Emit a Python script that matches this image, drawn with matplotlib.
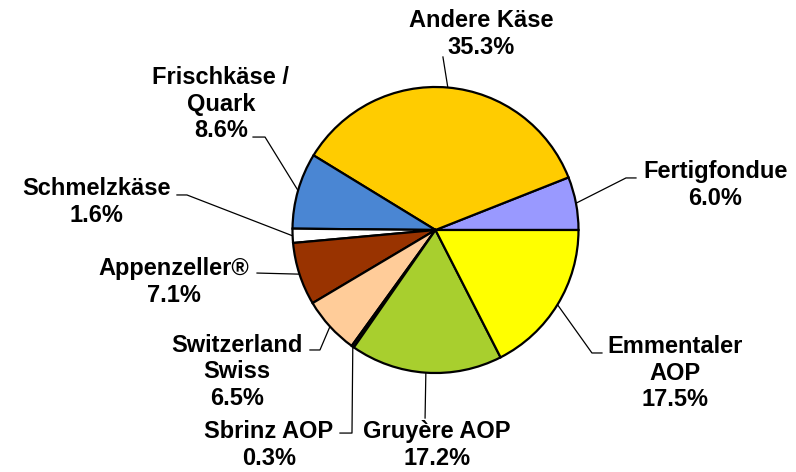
import matplotlib
matplotlib.use("Agg")
import matplotlib.pyplot as plt
import numpy as np

# slices, counterclockwise from 3 o'clock
names = ["Fertigfondue", "Andere Käse", "Frischkäse /\nQuark", "Schmelzkäse",
         "Appenzeller®", "Switzerland\nSwiss", "Sbrinz AOP", "Gruyère AOP",
         "Emmentaler\nAOP"]
shares = [6.0, 35.3, 8.6, 1.6, 7.1, 6.5, 0.3, 17.2, 17.5]
colors = ["#9999FF", "#FFCC00", "#4A86D3", "#FFFFFF", "#993300",
          "#FFCC99", "#222222", "#A8CF2E", "#FFFF00"]

# label layout (data units, pie radius = 1): text centre, leader elbow points
text_pos = [(1.955, 0.315), (0.318, 1.37), (-1.50, 0.881), (-2.374, 0.196),
            (-1.829, -0.364), (-1.388, -0.993), (-1.164, -1.503),
            (0.01, -1.503), (1.675, -1.0)]
leader_pts = [[(1.332, 0.364), (1.402, 0.364)],
              [(0.052, 1.21)],
              [(-1.192, 0.65), (-1.276, 0.65)],
              [(-1.738, 0.245), (-1.808, 0.245)],
              [(-1.248, -0.301)],
              [(-0.808, -0.839), (-0.878, -0.839)],
              [(-0.584, -1.42), (-0.668, -1.42)],
              [(-0.073, -1.315)],
              [(1.094, -0.86), (1.164, -0.86)]]

plt.rcParams['font.family'] = ['Liberation Sans', 'DejaVu Sans']

fig = plt.figure(figsize=(7.96, 4.72), dpi=100)
ax = fig.add_axes([0, 0, 1, 1])

wedges, _ = ax.pie(shares, colors=colors, startangle=0, counterclock=True,
                   radius=1.0, center=(0, 0),
                   wedgeprops=dict(edgecolor="black", linewidth=1.6))

total = sum(shares)
angle = 0.0
for i in range(len(names)):
    mid = np.deg2rad(angle + shares[i] / total * 360.0 / 2)
    angle += shares[i] / total * 360.0
    start = (np.cos(mid), np.sin(mid))
    pts = [start] + leader_pts[i]
    xs = [p[0] for p in pts]
    ys = [p[1] for p in pts]
    ax.plot(xs, ys, color="black", linewidth=0.9, zorder=0.5)
    ax.text(text_pos[i][0], text_pos[i][1], f"{names[i]}\n{shares[i]:.1f}%",
            ha="center", va="center", fontsize=17, fontweight="bold",
            linespacing=1.2)

ax.set_xlim(-435.5 / 143, (796 - 435.5) / 143)
ax.set_ylim((230 - 472) / 143, 230 / 143)
ax.set_aspect("equal")
ax.axis("off")

fig.savefig("out.png", dpi=100)
